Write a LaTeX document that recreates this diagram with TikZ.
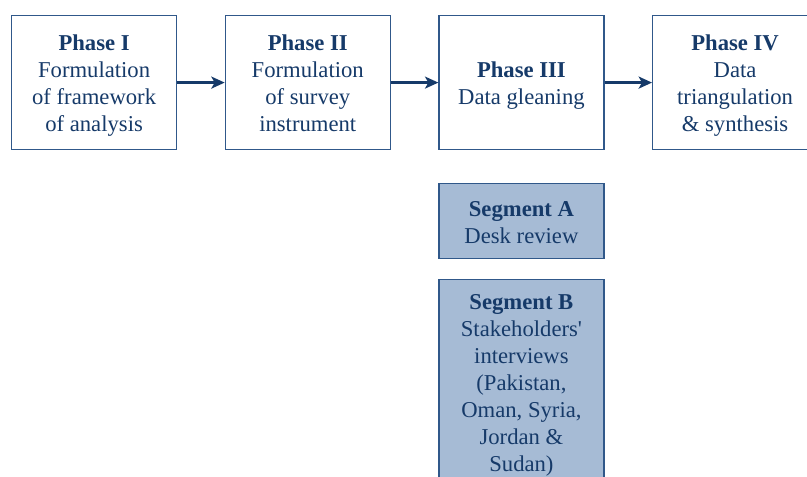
\documentclass[tikz,border=0pt]{standalone}
\usepackage{fontspec}
\newfontfamily\boxfont{Liberation Serif}
\usepackage{tikz}
\usetikzlibrary{arrows.meta, positioning}
\definecolor{phasenavy}{RGB}{22,58,105}
\definecolor{phaseline}{RGB}{48,88,138}
\definecolor{segfill}{RGB}{166,187,213}
% struts so every box centres its lines the same way
\newcommand{\topstrut}{\rule{0pt}{18.3pt}}
\newcommand{\botstrut}{\rule[-5pt]{0pt}{0pt}}
\tikzset{
  fase/.style={rectangle, minimum width=123.75pt, minimum height=100.5pt, text centered, align=center, draw=phaseline, line width=0.9pt, text=phasenavy, inner sep=0pt, font=\boxfont\fontsize{17}{20.25}\selectfont},
  segmento/.style={fase, fill=segfill, minimum height=56.25pt},
  arrow/.style={line width=1.8pt,-{Stealth[length=10pt,width=9pt,inset=2.5pt]},color=phasenavy}
}
\begin{document}
\begin{tikzpicture}[node distance=35.6pt]
  \clip (0,0) rectangle (605.25pt,-357.75pt);
  \node (p1) [fase, anchor=north west] at (8.25pt,-11.25pt) {\topstrut\textbf{Phase I}\\ Formulation\\ of framework\\ of analysis\botstrut};
  \node (p2) [fase, right=of p1] {\topstrut\textbf{Phase II}\\ Formulation\\ of survey\\ instrument\botstrut};
  \node (p3) [fase, right=of p2] {\topstrut\textbf{Phase III}\\ Data gleaning\botstrut};
  \node (p4) [fase, right=of p3] {\topstrut\textbf{Phase IV}\\ Data\\ triangulation\\ \& synthesis\botstrut};
  \node (sa) [segmento, below=24.75pt of p3] {\topstrut\textbf{Segment A}\\ Desk review\botstrut};
  \node (sb) [segmento, minimum height=153pt, below=14.5pt of sa] {\topstrut\textbf{Segment B}\\ Stakeholders'\\ interviews\\ (Pakistan,\\ Oman, Syria,\\ Jordan \&\\ Sudan)\botstrut};
  \draw [arrow] (p1) -- (p2); \draw [arrow] (p2) -- (p3);
  \draw [arrow] (p3) -- (p4);
\end{tikzpicture}
\end{document}
